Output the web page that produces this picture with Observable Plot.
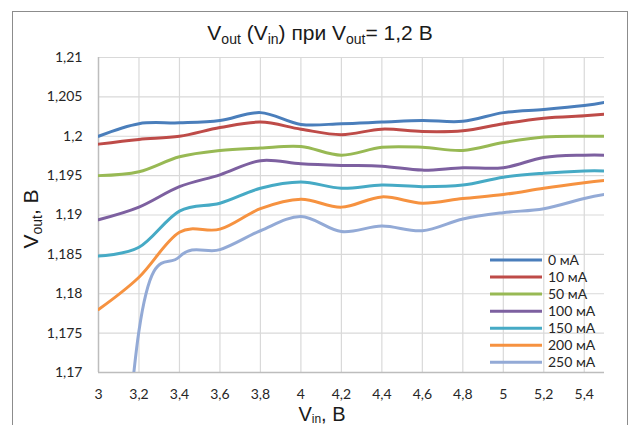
<!DOCTYPE html>
<html>
<head>
<meta charset="utf-8">
<script src="https://cdn.jsdelivr.net/npm/d3@7"></script>
<script src="https://cdn.jsdelivr.net/npm/@observablehq/plot@0.6"></script>
<style>
  body { margin: 0; background: #fff; }
  #chart { position: relative; width: 630px; height: 425px; overflow: hidden; }
  #chart svg { position: absolute; left: 0; top: 0; }
</style>
</head>
<body>
<div id="chart"></div>
<script>
// Input voltage, V
const vin = [3, 3.2, 3.4, 3.6, 3.8, 4, 4.2, 4.4, 4.6, 4.8, 5, 5.2, 5.4, 5.5];

// Output voltage, V, for each load current
const load0   = [1.2000, 1.2016, 1.2017, 1.2020, 1.2030, 1.2015, 1.2016, 1.2018, 1.2020, 1.2019, 1.2030, 1.2034, 1.2039, 1.2043];
const load10  = [1.1990, 1.1996, 1.2000, 1.2011, 1.2018, 1.2009, 1.2002, 1.2009, 1.2006, 1.2007, 1.2016, 1.2023, 1.2026, 1.2028];
const load50  = [1.1950, 1.1955, 1.1974, 1.1982, 1.1985, 1.1987, 1.1976, 1.1986, 1.1986, 1.1982, 1.1992, 1.1999, 1.2000, 1.2000];
const load100 = [1.1894, 1.1910, 1.1936, 1.1951, 1.1969, 1.1965, 1.1963, 1.1962, 1.1957, 1.1960, 1.1960, 1.1973, 1.1976, 1.1976];
const load150 = [1.1848, 1.1859, 1.1905, 1.1915, 1.1934, 1.1942, 1.1934, 1.1938, 1.1936, 1.1938, 1.1948, 1.1953, 1.1956, 1.1956];
const load200 = [1.1780, 1.1821, 1.1878, 1.1882, 1.1908, 1.1920, 1.1910, 1.1923, 1.1915, 1.1921, 1.1926, 1.1934, 1.1941, 1.1944];
// at 3 V and 250 mA the regulator is in dropout, far below the axis
const load250 = [1.1155, 1.1753, 1.1847, 1.1856, 1.1880, 1.1898, 1.1879, 1.1886, 1.1880, 1.1895, 1.1903, 1.1908, 1.1921, 1.1926];

const seriesNames = ["0 мА", "10 мА", "50 мА", "100 мА", "150 мА", "200 мА", "250 мА"];
const seriesValues = [load0, load10, load50, load100, load150, load200, load250];
const seriesColors = ["#4a7ebb", "#be4b48", "#98b954", "#7d60a0", "#46aac5", "#f69240", "#93aad6"];

const xTicks = [3, 3.2, 3.4, 3.6, 3.8, 4, 4.2, 4.4, 4.6, 4.8, 5, 5.2, 5.4];
const xTickLabels = ["3", "3,2", "3,4", "3,6", "3,8", "4", "4,2", "4,4", "4,6", "4,8", "5", "5,2", "5,4"];
const yTicks = [1.17, 1.175, 1.18, 1.185, 1.19, 1.195, 1.2, 1.205, 1.21];
const yTickLabels = ["1,17", "1,175", "1,18", "1,185", "1,19", "1,195", "1,2", "1,205", "1,21"];

// long table for Plot
const table = seriesNames.flatMap((name, s) =>
  vin.map((x, i) => ({vin: x, vout: seriesValues[s][i], series: name}))
);

const xLabel = new Map(xTicks.map((t, i) => [t, xTickLabels[i]]));
const yLabel = new Map(yTicks.map((t, i) => [t, yTickLabels[i]]));

const gridColor = "#d9d9d9";
const axisColor = "#bdbdbd";
const textColor = "#262626";

const plot = Plot.plot({
  width: 630,
  height: 425,
  marginLeft: 98,
  marginRight: 26,
  marginTop: 57,
  marginBottom: 53,
  style: {fontFamily: "Lato, 'Open Sans', sans-serif", fontSize: "14px", color: textColor, background: "transparent"},
  x: {domain: [3, 5.5], label: null},
  y: {domain: [1.17, 1.21], label: null},
  color: {domain: seriesNames, range: seriesColors},
  marks: [
    Plot.gridY(yTicks, {stroke: gridColor, strokeOpacity: 1, strokeWidth: 1.2}),
    Plot.gridX(xTicks.slice(1), {stroke: gridColor, strokeOpacity: 1, strokeWidth: 1.2}),
    Plot.ruleX([3], {stroke: axisColor, strokeWidth: 1.5}),
    Plot.ruleY([1.17], {stroke: axisColor, strokeWidth: 1.5}),
    Plot.axisY(yTicks, {tickSize: 0, tickPadding: 16, tickFormat: d => yLabel.get(d), label: null}),
    Plot.axisX(xTicks, {tickSize: 0, tickPadding: 17, tickFormat: d => xLabel.get(d), label: null}),
    Plot.line(table, {
      x: "vin", y: "vout", z: "series", stroke: "series",
      curve: "cardinal", strokeWidth: 3, strokeLinejoin: "round", strokeLinecap: "round", clip: true
    })
  ]
});

document.getElementById("chart").appendChild(plot);

// chart border, titles and legend drawn into the plot's svg
const svg = d3.select(plot);

svg.insert("rect", ":first-child")
  .attr("x", 12.5).attr("y", 11.5).attr("width", 615).attr("height", 440)
  .attr("fill", "#fff").attr("stroke", "#8c8c8c").attr("stroke-width", 1);

const deco = svg.append("g")
  .style("font-family", "'Liberation Sans', Arial, sans-serif")
  .attr("fill", "#1a1a1a");

// text with subscripts: parts are [string, isSubscript]
function voltText(el, parts, size, subSize, shift) {
  let lowered = false;
  for (const [txt, sub] of parts) {
    const t = el.append("tspan").text(txt).style("font-size", (sub ? subSize : size) + "px");
    if (sub && !lowered) { t.attr("dy", shift); lowered = true; }
    else if (!sub && lowered) { t.attr("dy", -shift); lowered = false; }
  }
}

const title = deco.append("text").attr("x", 320).attr("y", 40).attr("text-anchor", "middle");
voltText(title, [["V", false], ["out", true], [" (V", false], ["in", true], [") при V", false], ["out", true], ["= 1,2 В", false]], 21, 14, 4);

const yTitle = deco.append("text")
  .attr("transform", "translate(38,219) rotate(-90)").attr("text-anchor", "middle");
voltText(yTitle, [["V", false], ["out", true], [", В", false]], 21, 14, 4);

const xTitle = deco.append("text").attr("x", 322).attr("y", 421).attr("text-anchor", "middle");
voltText(xTitle, [["V", false], ["in", true], [", В", false]], 20, 12, 2);

const legend = svg.append("g")
  .style("font-family", "Lato, 'Open Sans', sans-serif")
  .style("font-size", "14px")
  .attr("fill", textColor);
seriesNames.forEach((name, i) => {
  const y = 260 + i * 17.05;
  legend.append("line").attr("x1", 490).attr("x2", 542).attr("y1", y).attr("y2", y)
    .attr("stroke", seriesColors[i]).attr("stroke-width", 3);
  legend.append("text").attr("x", 548).attr("y", y).attr("dy", "0.36em")
    .attr("text-anchor", "start").text(name);
});
</script>
</body>
</html>
